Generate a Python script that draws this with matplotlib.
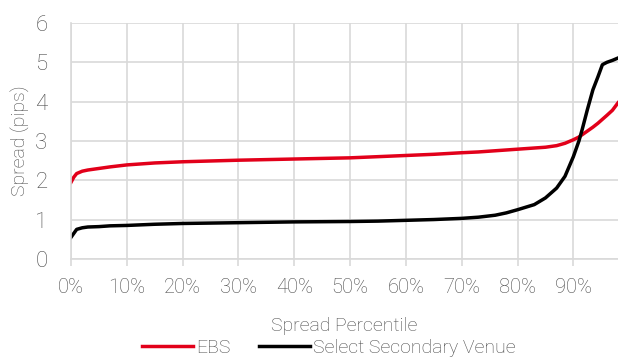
import matplotlib.pyplot as plt
from matplotlib.ticker import PercentFormatter

# percentile grid (fraction) and spreads
pct = [0.0, 0.005, 0.01, 0.02, 0.03, 0.05, 0.07, 0.10, 0.15, 0.20, 0.25, 0.30,
       0.40, 0.50, 0.55, 0.60, 0.65, 0.70, 0.73, 0.76, 0.78, 0.80, 0.83, 0.85, 0.87, 0.885,
       0.90, 0.91, 0.916, 0.925, 0.935, 0.944, 0.952, 0.96, 0.97, 0.98]
ebs = [1.95, 2.08, 2.17, 2.23, 2.26, 2.30, 2.34, 2.39, 2.44, 2.47, 2.49, 2.51,
       2.54, 2.57, 2.60, 2.63, 2.66, 2.70, 2.72, 2.75, 2.77, 2.79, 2.82, 2.84, 2.88, 2.94,
       3.03, 3.10, 3.16, 3.25, 3.35, 3.45, 3.55, 3.65, 3.78, 3.97]
secondary = [0.55, 0.65, 0.75, 0.79, 0.81, 0.82, 0.84, 0.85, 0.88, 0.90, 0.91, 0.92,
             0.94, 0.95, 0.96, 0.98, 1.00, 1.03, 1.06, 1.11, 1.17, 1.25, 1.38, 1.55, 1.80, 2.10,
             2.60, 3.00, 3.30, 3.79, 4.30, 4.63, 4.94, 5.00, 5.05, 5.11]

text_color = '#4a4a4a'
plt.rcParams['font.family'] = ['Roboto', 'DejaVu Sans']
plt.rcParams['font.weight'] = 'light'
plt.rcParams['axes.labelweight'] = 'light'

fig = plt.figure(figsize=(6.18, 3.6), dpi=100)
ax = fig.add_axes([0.115, 0.281, 0.885, 0.655])

ax.plot(pct, ebs, color='#e2001a', lw=2.5, label='EBS')
ax.plot(pct, secondary, color='black', lw=2.5, label='Select Secondary Venue')

ax.set_xlim(0, 0.98)
ax.set_ylim(0, 6)
ax.set_xticks([i / 10 for i in range(10)])
ax.xaxis.set_major_formatter(PercentFormatter(1.0, decimals=0))
ax.set_yticks(range(7))

ax.grid(True, color='#d9d9d9', lw=1.2)
ax.set_axisbelow(True)
for s in ['top', 'right']:
    ax.spines[s].set_visible(False)
for s in ['left', 'bottom']:
    ax.spines[s].set_color('#d9d9d9')
    ax.spines[s].set_linewidth(1.2)
ax.tick_params(axis='x', colors='#d9d9d9', length=5, width=1.2, labelcolor=text_color,
               labelsize=14.5, pad=9)
ax.tick_params(axis='y', length=0, labelcolor=text_color, labelsize=16, pad=17)

ax.set_xlabel('Spread Percentile', color=text_color, fontsize=14, labelpad=14)
ax.set_ylabel('Spread (pips)', color=text_color, fontsize=14, labelpad=4)

fig.legend(loc='lower center', bbox_to_anchor=(0.532, -0.04), ncol=2, frameon=False,
           fontsize=14, labelcolor=text_color, handlelength=2.6, handletextpad=0.15,
           columnspacing=1.5)

fig.savefig('out.png', dpi=100)
